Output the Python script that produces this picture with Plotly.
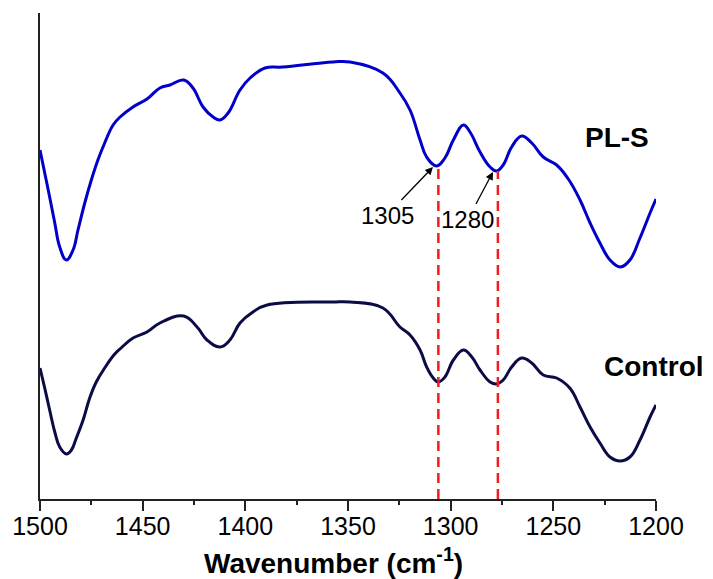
import plotly.graph_objects as go

# PL-S spectrum (wavenumber, arbitrary intensity)
pls_wn = [1500, 1497.7, 1495.3, 1492.8, 1490.4, 1487.2, 1483.9, 1481.5, 1478.2, 1475.0, 1471.8, 1468.5,
          1464.4, 1461.0, 1454.7, 1447.9, 1441.6, 1436.7, 1430.0, 1425.5, 1420.6, 1415.7, 1412.3, 1408.4,
          1402.6, 1397.7, 1390.4, 1381.7, 1357.3, 1349.0, 1333.0, 1324.7, 1319.8, 1314.9, 1311.7, 1306.8,
          1302.8, 1298.7, 1293.8, 1290.6, 1285.7, 1280.8, 1277.6, 1274.4, 1270.3, 1265.4, 1260.5, 1254.9,
          1248.4, 1242.7, 1237.0, 1232.1, 1227.3, 1222.4, 1217.5, 1212.7, 1207.8, 1202.9, 1200]
pls_val = [349, 326, 302, 276, 252, 239, 249, 269, 296, 319, 339, 356,
           374, 382, 392, 400, 411, 414, 419, 411, 392, 382, 379, 386,
           409, 421, 431, 432, 437, 437, 426, 406, 389, 359, 342, 333,
           341, 359, 374, 367, 347, 332, 328, 334, 352, 363, 356, 342,
           334, 320, 299, 276, 256, 239, 232, 239, 261, 286, 300]

# Control spectrum
ctl_wn = [1500, 1497.7, 1495.3, 1492.8, 1490.4, 1487.1, 1484.7, 1482.3, 1479.0, 1475.8, 1472.6, 1468.5,
          1464.0, 1460.5, 1454.7, 1447.9, 1441.6, 1430.0, 1423.5, 1418.7, 1412.3, 1407.5, 1402.6, 1396.3,
          1389.4, 1357.3, 1349.0, 1333.0, 1324.7, 1319.8, 1314.9, 1311.7, 1308.5, 1306.0, 1302.8, 1298.7,
          1293.8, 1289.7, 1285.7, 1280.8, 1277.6, 1274.4, 1270.3, 1265.4, 1260.5, 1254.9, 1248.4, 1242.0,
          1237.0, 1232.1, 1227.3, 1222.4, 1217.5, 1212.7, 1207.8, 1202.9, 1200]
ctl_val = [131, 111, 89, 67, 52, 45, 49, 61, 79, 101, 117, 131,
           144, 151, 161, 167, 176, 183, 172, 159, 152, 159, 176, 187,
           194, 197, 197, 191, 172, 164, 149, 132, 121, 117, 122, 139,
           149, 142, 129, 117, 115, 119, 132, 141, 136, 124, 121, 111,
           92, 72, 56, 42, 38, 42, 59, 82, 94]

# marked peaks
peak_wn = [1306.0, 1277.0]
peak_top = [333, 328]
peak_labels = ["1305", "1280"]
arrow_head_wn = [1308.6, 1279.4]
arrow_head_val = [332, 327]
arrow_dx = [-46, -25]
arrow_dy = [48, 47]

FONT = "Arial, Liberation Sans, sans-serif"

fig = go.Figure()
fig.add_trace(go.Scatter(x=pls_wn, y=pls_val, mode="lines",
                         line=dict(color="#0000C8", width=3, shape="spline", smoothing=1.2), showlegend=False))
fig.add_trace(go.Scatter(x=ctl_wn, y=ctl_val, mode="lines",
                         line=dict(color="#0B0B45", width=3, shape="spline", smoothing=1.2), showlegend=False))
for wn, top in zip(peak_wn, peak_top):
    fig.add_trace(go.Scatter(x=[wn, wn], y=[0, top], mode="lines",
                             line=dict(color="#F01E1E", width=2.5, dash="10px,6px"), showlegend=False))

for wn, v, lab, dx, dy in zip(arrow_head_wn, arrow_head_val, peak_labels, arrow_dx, arrow_dy):
    fig.add_annotation(x=wn, y=v, text=lab, showarrow=True, ax=dx, ay=dy,
                       arrowhead=2, arrowsize=1.2, arrowwidth=1.3, arrowcolor="black",
                       font=dict(family=FONT, size=24, color="black"))

fig.add_annotation(x=0.937, y=0.743, xref="paper", yref="paper", text="<b>PL-S</b>", showarrow=False,
                   font=dict(family=FONT, size=28, color="black"), xanchor="center", yanchor="middle")
fig.add_annotation(x=0.997, y=0.272, xref="paper", yref="paper", text="<b>Control</b>", showarrow=False,
                   font=dict(family=FONT, size=28, color="black"), xanchor="center", yanchor="middle")
fig.add_annotation(x=0.4765, y=-0.128, xref="paper", yref="paper", text="<b>Wavenumber (cm<sup>-1</sup>)</b>",
                   showarrow=False, font=dict(family=FONT, size=28, color="black"), xanchor="center", yanchor="middle")

fig.update_layout(
    width=705, height=571,
    margin=dict(l=32, r=57, t=5, b=80),
    paper_bgcolor="white", plot_bgcolor="white",
    xaxis=dict(range=[1500, 1200], tickvals=[1500, 1450, 1400, 1350, 1300, 1250, 1200],
               ticks="outside", ticklen=10, tickwidth=2, tickcolor="#222", ticklabelstandoff=-6,
               showline=True, linecolor="#222", linewidth=2, showgrid=False, zeroline=False,
               tickfont=dict(family=FONT, size=25, color="black"),
               minor=dict(tickvals=[1475, 1425, 1375, 1325, 1275, 1225], ticks="outside", ticklen=4,
                          tickwidth=2, tickcolor="#222")),
    yaxis=dict(range=[0, 486], showticklabels=False, ticks="", showline=True, linecolor="#222", linewidth=2,
               showgrid=False, zeroline=False),
)
fig.write_html("out.html")
